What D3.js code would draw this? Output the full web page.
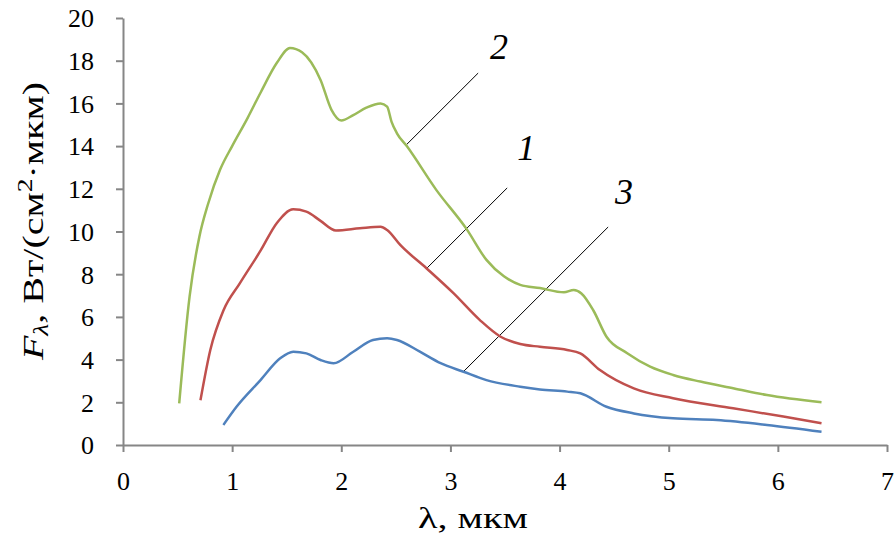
<!DOCTYPE html>
<html>
<head>
<meta charset="utf-8">
<script src="https://cdn.jsdelivr.net/npm/d3@7"></script>
<style>
  body { margin: 0; background: #fff; }
  svg text { font-family: "Liberation Serif", "Times New Roman", serif; }
</style>
</head>
<body>
<div id="chart"></div>
<script>
// curve 1 (red)
const wave1 = [0.71, 0.80, 0.92, 1.07, 1.26, 1.41, 1.56, 1.68, 1.81, 1.95, 2.17, 2.36, 2.42, 2.54, 2.78, 3.03, 3.27, 3.46, 3.64, 3.82, 4.07, 4.19, 4.37, 4.68, 5.04, 5.59, 6.05, 6.40];
const flux1 = [2.1, 4.45, 6.3, 7.57, 9.1, 10.4, 11.04, 10.93, 10.5, 10.05, 10.15, 10.22, 10.07, 9.37, 8.28, 7.1, 5.85, 5.07, 4.73, 4.6, 4.45, 4.29, 3.51, 2.65, 2.19, 1.72, 1.33, 1.02];
// curve 2 (green)
const wave2 = [0.515, 0.61, 0.70, 0.78, 0.89, 1.0, 1.14, 1.26, 1.41, 1.53, 1.64, 1.81, 1.91, 2.0, 2.11, 2.23, 2.36, 2.42, 2.46, 2.51, 2.6, 2.87, 3.15, 3.33, 3.49, 3.64, 3.82, 4.04, 4.13, 4.2, 4.31, 4.43, 4.62, 4.83, 5.04, 5.29, 5.6, 5.9, 6.40];
const flux2 = [1.95, 6.95, 9.76, 11.3, 12.9, 14.0, 15.3, 16.5, 17.9, 18.6, 18.4, 17.1, 15.7, 15.2, 15.45, 15.8, 16.0, 15.85, 15.15, 14.6, 14.0, 11.95, 10.1, 8.67, 7.9, 7.5, 7.35, 7.15, 7.26, 7.1, 6.3, 5.07, 4.3, 3.67, 3.28, 2.97, 2.65, 2.34, 2.0];
// curve 3 (blue)
const wave3 = [0.92, 1.04, 1.26, 1.44, 1.56, 1.68, 1.81, 1.93, 2.11, 2.29, 2.42, 2.51, 2.72, 2.91, 3.12, 3.33, 3.64, 3.82, 4.07, 4.19, 4.43, 4.68, 5.04, 5.44, 5.9, 6.40];
const flux3 = [0.94, 1.79, 3.04, 4.06, 4.37, 4.29, 3.98, 3.83, 4.37, 4.92, 5.0, 4.92, 4.37, 3.83, 3.43, 3.04, 2.73, 2.6, 2.5, 2.42, 1.79, 1.48, 1.25, 1.17, 0.94, 0.62];

const seriesNames = ["1", "2", "3"];
const seriesColors = ["#C0504D", "#9BBB59", "#4F81BD"];

// leader lines: [x1, y1, x2, y2] in data units, then label position
const leaderLines = [
  [2.786, 8.29, 3.52, 12.04],
  [2.594, 14.05, 3.254, 17.42],
  [3.116, 3.42, 4.445, 10.21]
];
const labelPos = [[3.694, 13.93], [3.446, 18.63], [4.59, 11.85]];

const xTicks = [0, 1, 2, 3, 4, 5, 6, 7];
const yTicks = [0, 2, 4, 6, 8, 10, 12, 14, 16, 18, 20];

const width = 896, height = 544;
const mLeft = 123, mRight = 887, mTop = 18, mBottom = 445;
const serif = "'Liberation Serif', 'Times New Roman', serif";

const svg = d3.select("#chart").append("svg")
  .attr("width", width)
  .attr("height", height)
  .style("font-family", serif);

const x = d3.scaleLinear().domain([0, 7]).range([mLeft, mRight]);
const y = d3.scaleLinear().domain([0, 20]).range([mBottom, mTop]);

const axisColor = "#868686";

const xAxis = d3.axisBottom(x).tickValues(xTicks).tickFormat(d3.format("d"))
  .tickSize(7).tickSizeOuter(0).tickPadding(20);
const yAxis = d3.axisLeft(y).tickValues(yTicks).tickFormat(d3.format("d"))
  .tickSize(7).tickSizeOuter(0).tickPadding(22);

const gx = svg.append("g")
  .attr("transform", "translate(0," + mBottom + ")")
  .call(xAxis);
const gy = svg.append("g")
  .attr("transform", "translate(" + mLeft + ",0)")
  .call(yAxis);

[gx, gy].forEach(g => {
  g.attr("font-family", serif).attr("font-size", 26);
  g.select(".domain").attr("stroke", axisColor).attr("stroke-width", 2);
  g.selectAll(".tick line").attr("stroke", axisColor).attr("stroke-width", 2);
  g.selectAll(".tick text").attr("fill", "#000");
});
gy.selectAll(".tick text").attr("dy", "0.34em");

// curves
const line = d3.line()
  .x(d => x(d[0]))
  .y(d => y(d[1]))
  .curve(d3.curveMonotoneX);

const waves = [wave1, wave2, wave3];
const fluxes = [flux1, flux2, flux3];

// leader lines
leaderLines.forEach(l => {
  svg.append("line")
    .attr("x1", x(l[0])).attr("y1", y(l[1]))
    .attr("x2", x(l[2])).attr("y2", y(l[3]))
    .attr("stroke", "#000")
    .attr("stroke-width", 1);
});

waves.forEach((w, i) => {
  svg.append("path")
    .datum(w.map((v, j) => [v, fluxes[i][j]]))
    .attr("fill", "none")
    .attr("stroke", seriesColors[i])
    .attr("stroke-width", 2.5)
    .attr("d", line);
});

seriesNames.forEach((name, i) => {
  svg.append("text")
    .attr("x", x(labelPos[i][0]))
    .attr("y", y(labelPos[i][1]))
    .attr("dy", "0.34em")
    .attr("text-anchor", "middle")
    .style("font-size", "36px")
    .style("font-style", "italic")
    .text(name);
});

// axis titles, widened a bit to the length they take in the reference
svg.append("text")
  .attr("x", 418)
  .attr("y", 528)
  .attr("textLength", 110)
  .attr("lengthAdjust", "spacingAndGlyphs")
  .style("font-size", "29px")
  .text("λ, мкм");

const yTitle = svg.append("text")
  .attr("transform", "translate(43,360) rotate(-90)")
  .attr("textLength", 278)
  .attr("lengthAdjust", "spacingAndGlyphs")
  .style("font-size", "29px");
yTitle.append("tspan").style("font-style", "italic").text("F");
yTitle.append("tspan").style("font-style", "italic").style("font-size", "20px").attr("dy", 5).text("λ");
yTitle.append("tspan").attr("dy", -5).text(", Вт/(см");
yTitle.append("tspan").style("font-size", "20px").attr("dy", -11).text("2");
yTitle.append("tspan").attr("dy", 11).text("·мкм)");
</script>
</body>
</html>
